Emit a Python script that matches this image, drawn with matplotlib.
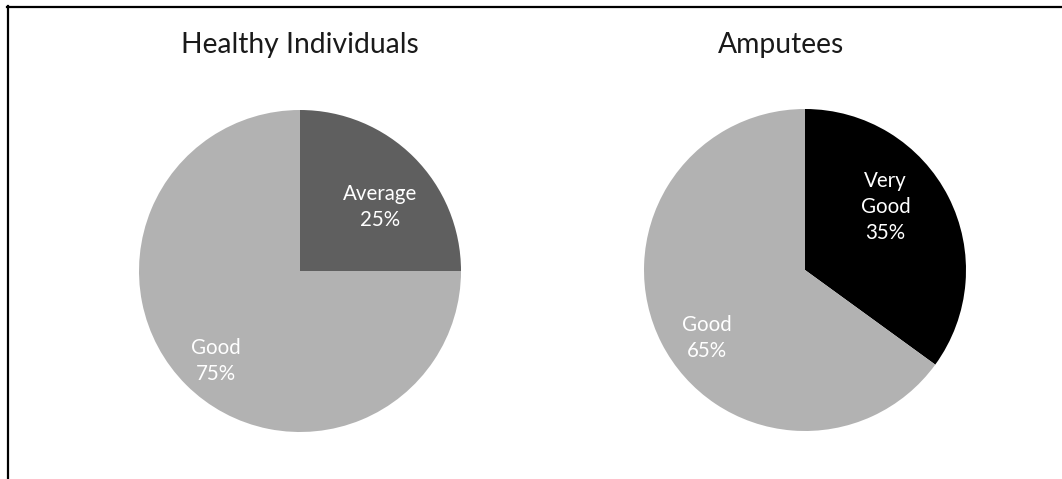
import matplotlib.pyplot as plt
from matplotlib.lines import Line2D

plt.rcParams['font.family'] = ['Lato', 'DejaVu Sans']

# survey results, percent of respondents
healthy_labels = ['Average', 'Good']
healthy_values = [25, 75]
amputee_labels = ['Very\nGood', 'Good']
amputee_values = [35, 65]

shade = {'Very\nGood': '#000000', 'Average': '#5f5f5f', 'Good': '#b2b2b2'}

W, H = 1062, 479
fig = plt.figure(figsize=(W / 100, H / 100), dpi=100)


def draw_pie(cx, cy, r, labels, values, label_pos, title, title_x):
    ax = fig.add_axes([(cx - r) / W, (H - cy - r) / H, 2 * r / W, 2 * r / H])
    texts = ax.pie(values, labels=[f'{l}\n{v}%' for l, v in zip(labels, values)],
                   colors=[shade[l] for l in labels], startangle=90,
                   counterclock=False, labeldistance=0.7,
                   wedgeprops=dict(linewidth=0),
                   textprops=dict(color='white', fontsize=14.8, linespacing=1.38))[1]
    for t, pos in zip(texts, label_pos):
        t.set_position(pos)
        t.set_ha('center')
        t.set_va('center')
    ax.set_xlim(-1, 1)
    ax.set_ylim(-1, 1)
    ax.set_aspect('equal')
    ax.axis('off')
    fig.text(title_x / W, 1 - 53 / H, title, ha='center', va='baseline',
             fontsize=20.3, color='#1a1a1a')


draw_pie(300, 271, 161, healthy_labels, healthy_values,
         [(0.50, 0.40), (-0.52, -0.56)], 'Healthy Individuals', 300)
draw_pie(805, 270, 161, amputee_labels, amputee_values,
         [(0.50, 0.39), (-0.61, -0.42)], 'Amputees', 781)

# frame on the top and left edge
fig.add_artist(Line2D([7 / W, 1], [1 - 6.5 / H, 1 - 6.5 / H], color='black', lw=1.6))
fig.add_artist(Line2D([7.5 / W, 7.5 / W], [0, 1 - 6 / H], color='black', lw=1.6))

fig.savefig('out.png', dpi=100)
